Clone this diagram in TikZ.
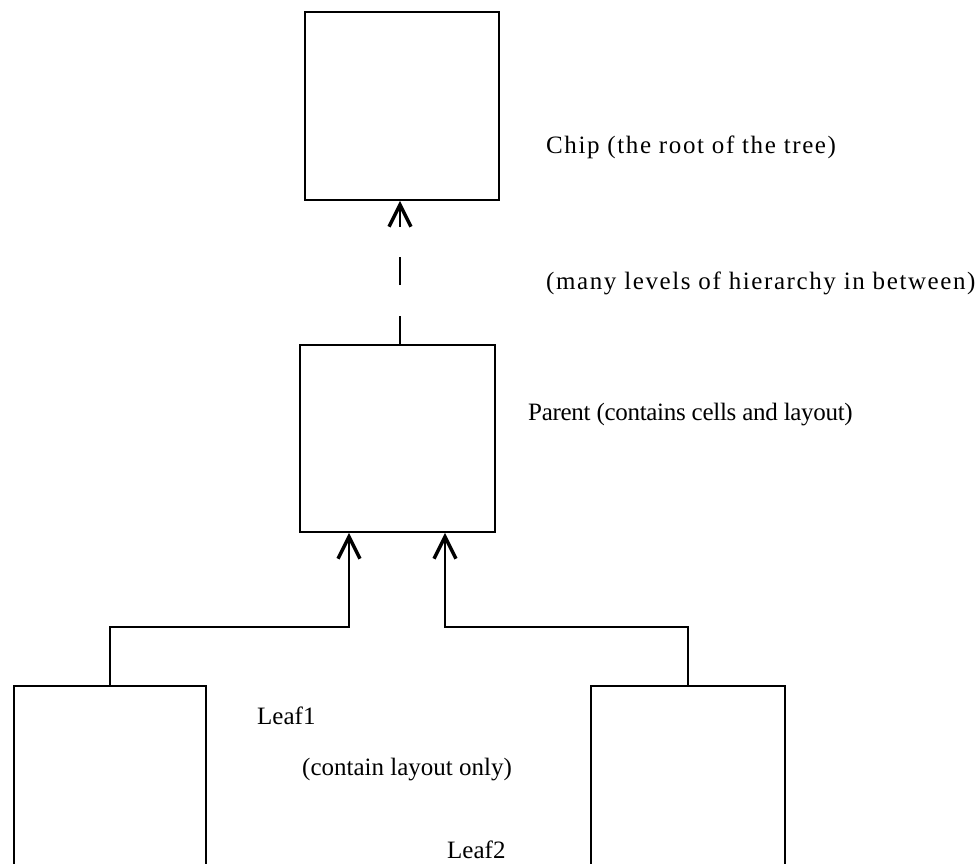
\documentclass[tikz,border=0pt]{standalone}
\usepackage{fontspec}
\setmainfont{Liberation Serif}
\newfontfamily\widefont[LetterSpace=6.4]{Liberation Serif}
\newfontfamily\tightfont[LetterSpace=-1.2]{Liberation Serif}
\usetikzlibrary{arrows.meta}
\begin{document}
\begin{tikzpicture}[x=1pt,y=-1pt,
  box/.style={draw,line width=1.6pt,inner sep=0pt},
  arr/.style={line width=1.5pt,-{Straight Barb[length=22pt,width=22pt,line width=3.5pt]}},
  lbl/.style={anchor=west,inner sep=0pt,font=\fontsize{25}{30}\selectfont}]
\useasboundingbox (0,0) rectangle (977,863);
\clip (0,0) rectangle (977,863);
\node[box,minimum width=194pt,minimum height=188pt] (chip) at (402,106) {};
\node[box,minimum width=195pt,minimum height=187pt] (parent) at (397.5,438.5) {};
\node[box,minimum width=192pt,minimum height=250pt] (leaf1) at (110,811) {};
\node[box,minimum width=194pt,minimum height=250pt] (leaf2) at (688,811) {};
\coordinate (c1) at (400,226);
\coordinate (p1) at ([xshift=-48.5pt]parent.south);
\coordinate (p2) at ([xshift=47.5pt]parent.south);
\draw[line width=1.5pt,dash pattern=on 28pt off 31pt] (c1 |- parent.north) -- (c1);
\draw[arr] (c1) -- (c1 |- chip.south);
\draw[arr] (leaf1.north) -- ++(0,-58) -| (p1);
\draw[arr] (leaf2.north) -- ++(0,-58) -| (p2);
\node[lbl,font=\fontsize{25}{30}\widefont] (t1) at (546,147) {Chip (the root of the tree)};
\node[lbl,font=\fontsize{25}{30}\widefont] (t2) at (546,283) {(many levels of hierarchy in between)};
\node[lbl,font=\fontsize{25}{30}\tightfont] (t3) at (528,415) {Parent (contains cells and layout)};
\node[lbl] (t4) at (257,716) {Leaf1};
\node[lbl] (t5) at (302,770) {(contain layout only)};
\node[lbl] (t6) at (447,850) {Leaf2};
\end{tikzpicture}
\end{document}
